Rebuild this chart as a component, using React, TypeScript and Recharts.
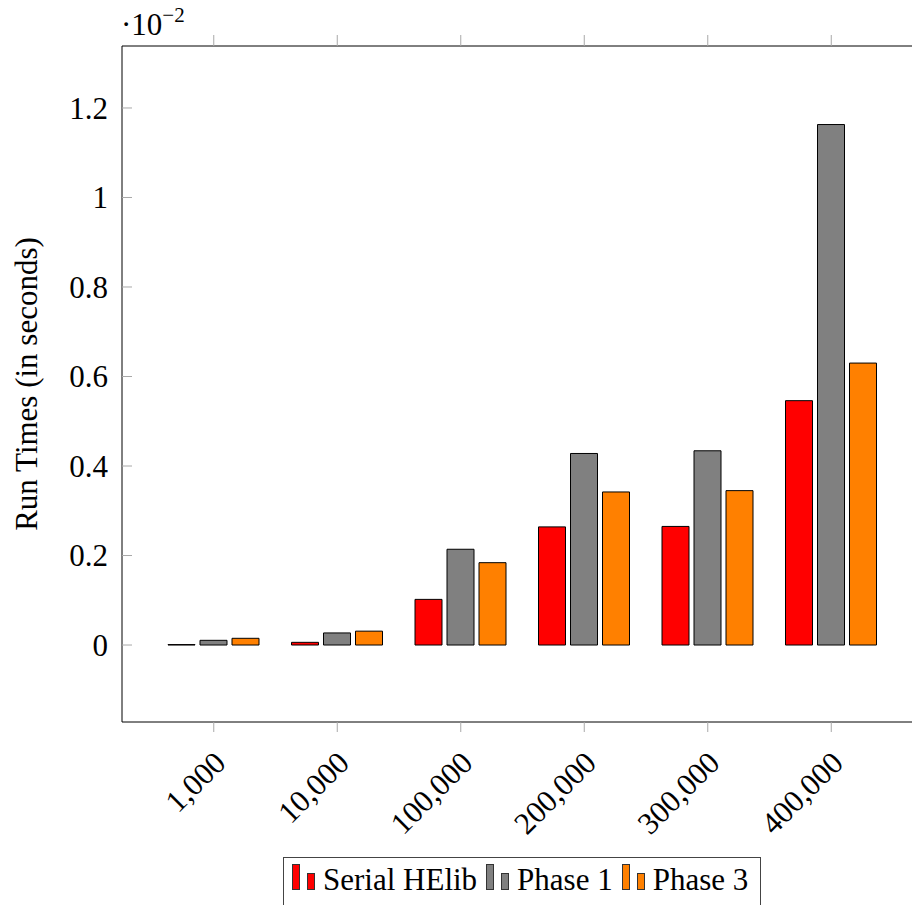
import { Bar, BarChart, Legend, XAxis, YAxis } from 'recharts';

const SIZES = ['1,000', '10,000', '100,000', '200,000', '300,000', '400,000'];
const SERIAL_HELIB = [0.001, 0.006, 0.102, 0.264, 0.265, 0.546];
const PHASE_1 = [0.0105, 0.027, 0.214, 0.428, 0.434, 1.163];
const PHASE_3 = [0.015, 0.031, 0.184, 0.342, 0.345, 0.63];
const Y_TICKS = [0, 0.2, 0.4, 0.6, 0.8, 1, 1.2];

const SERIES = [
    { key: 'serial', name: 'Serial HElib', color: '#ff0000' },
    { key: 'phase1', name: 'Phase 1', color: '#808080' },
    { key: 'phase3', name: 'Phase 3', color: '#ff8000' },
];

const data = SIZES.map((size, i) => ({
    size,
    serial: SERIAL_HELIB[i],
    phase1: PHASE_1[i],
    phase3: PHASE_3[i],
}));

const FONT = "'Times New Roman', Times, 'Liberation Serif', Tinos, 'Nimbus Roman', 'DejaVu Serif', serif";
const TICK_GRAY = '#a8a8a8';

const YTick = (props: any) => {
    const { x, y, payload } = props;
    return (
        <g>
            <line x1={x + 14} x2={x + 24} y1={y} y2={y} stroke={TICK_GRAY} />
            <text x={x} y={y} dy="0.35em" textAnchor="end" style={{ fontFamily: FONT }} fontSize={31} fill="#000">
                {String(payload.value)}
            </text>
        </g>
    );
};

const XTick = (props: any) => {
    const { x, y, payload } = props;
    return (
        <g transform={`translate(${x + 6},${y + 25})`}>
            <text transform="rotate(-45)" dy="0.35em" textAnchor="end" style={{ fontFamily: FONT }} fontSize={31} fill="#000">
                {payload.value}
            </text>
        </g>
    );
};

const LegendBox = () => (
    <div
        style={{
            display: 'inline-block',
            border: '1px solid #444',
            background: '#fff',
            padding: '6px 12px 20px 8px',
            whiteSpace: 'nowrap',
            fontFamily: FONT,
            fontSize: 31,
            lineHeight: '31px',
            color: '#000',
        }}
    >
        {SERIES.map((s, i) => (
            <span key={s.key} style={{ marginRight: i < SERIES.length - 1 ? 9 : 0 }}>
                <svg width={24} height={26} style={{ verticalAlign: 'baseline', marginRight: 7 }}>
                    <rect x={0.5} y={0.5} width={7} height={25} fill={s.color} stroke="#333" />
                    <rect x={15.5} y={9.5} width={7} height={16} fill={s.color} stroke="#333" />
                </svg>
                {s.name}
            </span>
        ))}
    </div>
);

export default function App() {
    return (
        <div style={{ position: 'fixed', left: 0, top: 0, width: 912, height: 905, overflow: 'hidden', background: '#fff' }}>
            <BarChart
                width={940}
                height={905}
                data={data}
                margin={{ top: 34, right: 17, left: 0, bottom: 0 }}
                barSize={27}
                barGap={5}
            >
                <XAxis
                    xAxisId="top"
                    orientation="top"
                    dataKey="size"
                    height={12}
                    padding={{ left: 30, right: 30 }}
                    tickSize={11}
                    tickLine={{ stroke: TICK_GRAY }}
                    axisLine={{ stroke: '#000' }}
                    tick={() => <g />}
                />
                <XAxis
                    xAxisId="bottom"
                    dataKey="size"
                    height={183}
                    padding={{ left: 30, right: 30 }}
                    tickSize={10}
                    tickMargin={0}
                    tickLine={{ stroke: TICK_GRAY }}
                    axisLine={{ stroke: '#000' }}
                    tick={<XTick />}
                    interval={0}
                />
                <YAxis
                    width={122}
                    domain={[-0.172, 1.3385]}
                    allowDataOverflow
                    ticks={Y_TICKS}
                    tickSize={0}
                    tickMargin={14}
                    tickLine={false}
                    axisLine={{ stroke: '#000' }}
                    tick={<YTick />}
                    label={{
                        value: 'Run Times (in seconds)',
                        angle: -90,
                        position: 'insideLeft',
                        offset: 26,
                        style: { textAnchor: 'middle', fontFamily: FONT, fontSize: 31, fill: '#000' },
                    }}
                />
                <Legend
                    layout="horizontal"
                    verticalAlign="middle"
                    align="center"
                    wrapperStyle={{ left: 283, top: 857, width: 'auto', height: 'auto' }}
                    content={() => <LegendBox />}
                />
                {SERIES.map((s) => (
                    <Bar
                        key={s.key}
                        xAxisId="bottom"
                        dataKey={s.key}
                        name={s.name}
                        fill={s.color}
                        stroke="#000"
                        strokeWidth={1}
                        isAnimationActive={false}
                    />
                ))}
            </BarChart>
            <div
                style={{
                    position: 'absolute',
                    left: 121,
                    top: 9,
                    fontFamily: FONT,
                    fontSize: 31,
                    lineHeight: '31px',
                    color: '#000',
                    whiteSpace: 'nowrap',
                }}
            >
                ·10
                <span style={{ fontSize: 21, position: 'relative', top: -13 }}>−2</span>
            </div>
        </div>
    );
}
